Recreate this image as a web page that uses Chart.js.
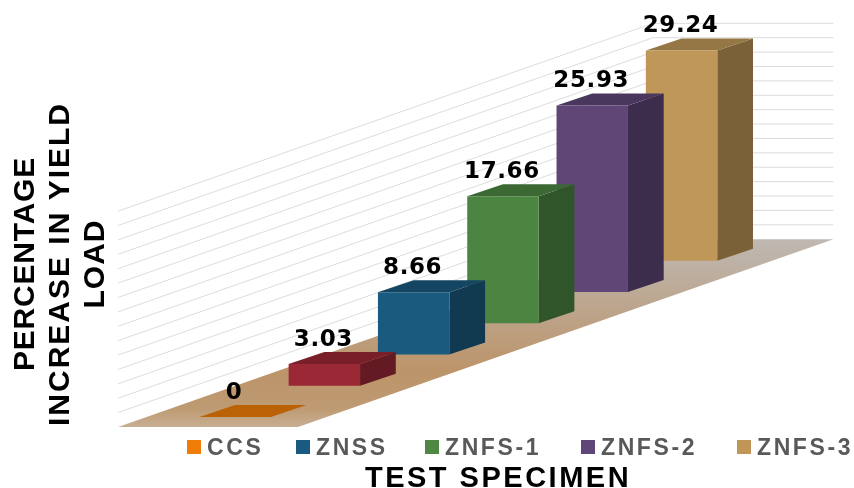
<!DOCTYPE html>
<html>
<head>
<meta charset="utf-8">
<title>Percentage increase in yield load</title>
<script src="https://cdn.jsdelivr.net/npm/chart.js@4"></script>
<style>
  body { margin: 0; background: #fff; }
  canvas { display: block; }
</style>
</head>
<body>
<canvas id="yieldChart" width="854" height="488"></canvas>
<script>
// the red bar has no entry in the legend of the original
const categories = ["CCS", "(unlabelled)", "ZNSS", "ZNFS-1", "ZNFS-2", "ZNFS-3"];
const yieldIncrease = [0, 3.03, 8.66, 17.66, 25.93, 29.24];
const valueLabels = ["0", "3.03", "8.66", "17.66", "25.93", "29.24"];
const barColors = ["#f07d08", "#9b2835", "#1a5a7f", "#4c8541", "#5f4677", "#bf9758"];
const legendNames = ["CCS", "ZNSS", "ZNFS-1", "ZNFS-2", "ZNFS-3"];
const legendColors = ["#f07d08", "#1b5a80", "#4f8743", "#5f4878", "#bf9658"];
const yTitleLines = ["PERCENTAGE", "INCREASE IN YIELD", "LOAD"];
const xTitle = "TEST SPECIMEN";

// fake perspective, in axis units
const frontLift = 1.39;  // first bar stands this far above the front of the floor
const liftPerBar = 4.34; // each bar sits this much higher than the one before
const wallLift = 26.1;   // rise of the floor from front to back
const depthX = 0.4;      // bar depth, category units
const depthY = 1.67;     // bar depth, value units

function shade(hex, f) {
  const n = parseInt(hex.slice(1), 16);
  const r = Math.round((n >> 16) * f);
  const g = Math.round(((n >> 8) & 255) * f);
  const b = Math.round((n & 255) * f);
  return `rgb(${r},${g},${b})`;
}

function poly(ctx, pts, fill) {
  ctx.beginPath();
  pts.forEach((p, i) => (i ? ctx.lineTo(p[0], p[1]) : ctx.moveTo(p[0], p[1])));
  ctx.closePath();
  ctx.fillStyle = fill;
  ctx.fill();
}

function spacedText(ctx, text, x, y, font, color, spacing, align) {
  ctx.font = font;
  ctx.fillStyle = color;
  ctx.letterSpacing = spacing + "px";
  ctx.textAlign = align || "left";
  ctx.textBaseline = "alphabetic";
  ctx.fillText(text, x, y);
  ctx.letterSpacing = "0px";
}

const scene3d = {
  id: "scene3d",
  beforeDatasetDraw(chart, args) {
    const ctx = chart.ctx;
    const x = chart.scales.x;
    const y = chart.scales.y;

    // floor
    const grad = ctx.createLinearGradient(0, y.getPixelForValue(wallLift), 0, y.getPixelForValue(0));
    grad.addColorStop(0, "#bfb8b1");
    grad.addColorStop(0.35, "#bca68f");
    grad.addColorStop(0.7, "#bc9469");
    grad.addColorStop(0.9, "#be9a72");
    grad.addColorStop(1, "#c8ae92");
    poly(ctx, [
      [x.getPixelForValue(-1.31), y.getPixelForValue(0)],
      [x.getPixelForValue(0.705), y.getPixelForValue(0)],
      [x.getPixelForValue(6.7), y.getPixelForValue(wallLift)],
      [x.getPixelForValue(4.68), y.getPixelForValue(wallLift)],
    ], grad);

    // wall gridlines
    ctx.strokeStyle = "#dcdcdc";
    ctx.lineWidth = 1;
    y.ticks.filter((t) => t.value > 0 && t.value <= 30).forEach((t) => {
      ctx.beginPath();
      ctx.moveTo(x.getPixelForValue(-1.31), y.getPixelForValue(t.value));
      ctx.lineTo(x.getPixelForValue(4.68), y.getPixelForValue(t.value + wallLift));
      ctx.lineTo(x.getPixelForValue(6.7), y.getPixelForValue(t.value + wallLift));
      ctx.stroke();
    });

    // right to left, nearer bars cover the ones behind
    const dx = x.getPixelForValue(depthX) - x.getPixelForValue(0);
    const dy = y.getPixelForValue(0) - y.getPixelForValue(depthY);
    const bars = args.meta.data;
    for (let i = bars.length - 1; i >= 0; i--) {
      const bar = bars[i];
      const l = bar.x - bar.width / 2;
      const r = bar.x + bar.width / 2;
      const c = barColors[i];
      poly(ctx, [[r, bar.y], [r + dx, bar.y - dy], [r + dx, bar.base - dy], [r, bar.base]], shade(c, 0.64));
      poly(ctx, [[l, bar.y], [l + dx, bar.y - dy], [r + dx, bar.y - dy], [r, bar.y]], shade(c, 0.78));
      bar.draw(ctx);
    }

    // value labels
    bars.forEach((bar, i) => {
      spacedText(ctx, valueLabels[i], bar.x - 1, bar.y - dy - 6, "bold 23px 'DejaVu Sans'", "#000", 0.6, "center");
    });
    return false;
  },
  afterDraw(chart) {
    const ctx = chart.ctx;

    // legend
    const legendX = [187, 296, 425, 581, 737];
    legendNames.forEach((name, i) => {
      ctx.fillStyle = legendColors[i];
      ctx.fillRect(legendX[i], 440, 14, 14);
      spacedText(ctx, name, legendX[i] + 20, 455, "bold 23px 'Liberation Sans'", "#595959", 2.6);
    });

    // axis titles
    spacedText(ctx, xTitle, 498, 487, "bold 29px 'Liberation Sans'", "#000", 2.5, "center");
    const baselines = [34, 69, 104];
    const spacings = [0.8, 2, 1];
    yTitleLines.forEach((line, i) => {
      ctx.save();
      ctx.translate(baselines[i], 264);
      ctx.rotate(-Math.PI / 2);
      spacedText(ctx, line, 0, 0, "bold 30px 'Liberation Sans'", "#000", spacings[i], "center");
      ctx.restore();
    });
  },
};

new Chart(document.getElementById("yieldChart"), {
  type: "bar",
  plugins: [scene3d],
  data: {
    labels: categories,
    datasets: [
      {
        label: "Percentage increase in yield load",
        data: yieldIncrease.map((v, i) => [frontLift + i * liftPerBar, frontLift + i * liftPerBar + v]),
        backgroundColor: barColors,
        categoryPercentage: 0.8,
        barPercentage: 1,
      },
    ],
  },
  options: {
    responsive: false,
    animation: false,
    layout: { padding: { left: 190.4, right: 127.8, top: 22.6, bottom: 61 } },
    scales: {
      x: { display: false },
      y: { display: false, min: 0, max: 56.2, ticks: { stepSize: 2, maxTicksLimit: 40, autoSkip: false } },
    },
    plugins: { legend: { display: false }, tooltip: { enabled: false } },
  },
});
</script>
</body>
</html>
